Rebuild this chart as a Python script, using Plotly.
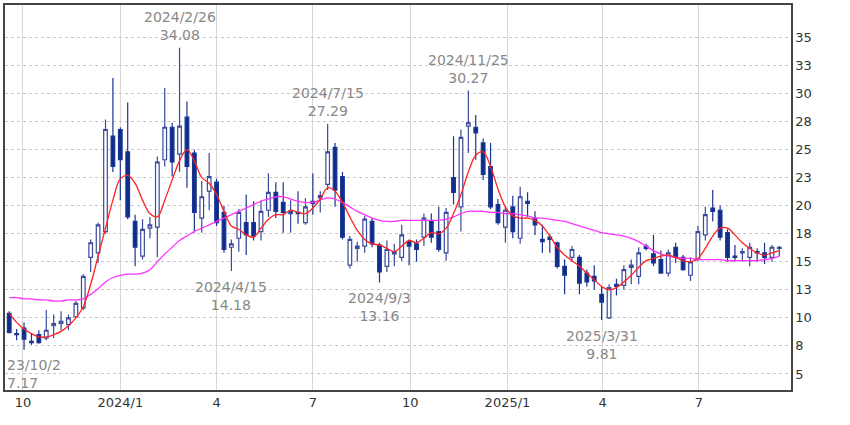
import pandas as pd
import plotly.graph_objects as go

# weekly candles
weeks = pd.date_range("2023-09-18", periods=105, freq="7D")

opens = [10.4, 8.6, 9.1, 7.9, 8.5, 8.2, 9.3, 9.5, 9.4, 10.1, 10.9, 15.4, 15.8, 17.7, 26.2, 26.8, 24.8, 18.6,
         15.5, 18.0, 18.1, 24.1, 27.0, 24.6, 27.9, 24.7, 18.9, 21.3, 22.1, 19.4, 16.3, 17.1, 18.5, 18.5, 17.7,
         19.6, 21.2, 20.3, 19.3, 19.4, 18.5, 20.4, 20.7, 21.9, 25.2, 22.6, 14.7, 16.2, 16.4, 18.6, 16.5, 14.6,
         15.7, 15.4, 16.8, 16.6, 17.2, 18.6, 17.7, 15.8, 22.5, 19.9, 27.1, 27.0, 25.6, 23.5, 20.1, 18.1, 19.9,
         17.1, 20.4, 18.9, 17.0, 17.2, 16.7, 14.6, 15.4, 15.4, 14.0, 13.7, 12.1, 10.0, 13.0, 12.9, 14.5, 13.7,
         16.4, 15.7, 15.2, 14.0, 16.3, 15.4, 13.8, 15.2, 17.4, 19.8, 19.6, 17.6, 15.5, 15.8, 15.4, 15.9, 15.8,
         15.4, 16.2]
highs = [10.6, 9.0, 9.6, 8.6, 8.9, 10.7, 10.3, 10.6, 10.3, 11.5, 13.9, 17.0, 18.5, 27.7, 31.4, 27.0, 29.2, 19.2,
         18.8, 19.0, 24.4, 30.5, 27.4, 34.08, 29.3, 25.0, 22.2, 24.7, 22.4, 20.0, 17.0, 19.7, 21.0, 20.4, 20.5,
         22.9, 22.1, 22.1, 20.5, 21.3, 20.7, 22.9, 21.3, 27.29, 25.6, 23.0, 17.3, 16.8, 19.1, 18.9, 16.7, 16.9,
         16.6, 18.3, 17.0, 17.0, 19.3, 19.3, 19.9, 19.8, 26.2, 26.8, 30.27, 28.1, 26.0, 25.6, 20.6, 19.9, 20.9,
         21.7, 21.2, 19.5, 18.3, 17.5, 16.8, 15.2, 16.4, 15.6, 14.3, 14.7, 12.8, 13.0, 13.5, 14.7, 15.2, 16.3,
         16.6, 17.4, 16.0, 16.1, 16.7, 15.6, 15.4, 18.2, 19.9, 21.4, 20.0, 17.9, 16.5, 16.2, 16.7, 16.2, 16.7,
         16.5, 16.4]
lows = [8.6, 8.0, 7.17, 7.6, 7.7, 8.0, 8.2, 8.9, 8.9, 10.0, 10.7, 14.1, 14.9, 17.5, 23.0, 20.5, 18.8, 14.6,
        15.2, 17.1, 15.4, 23.5, 22.6, 23.0, 21.6, 17.6, 17.6, 19.6, 18.2, 15.8, 14.18, 15.9, 15.6, 16.9, 16.9,
        19.0, 18.9, 17.6, 17.6, 18.4, 18.3, 19.2, 19.4, 21.4, 19.9, 17.0, 14.4, 15.0, 15.8, 16.3, 13.16, 14.1,
        14.6, 15.1, 14.7, 15.0, 16.4, 16.7, 15.9, 15.1, 20.1, 17.7, 24.7, 24.1, 22.3, 19.7, 18.3, 16.7, 17.1,
        16.6, 19.0, 17.4, 15.8, 15.8, 14.4, 12.1, 15.0, 12.1, 12.8, 12.5, 9.81, 9.9, 12.0, 12.5, 13.0, 13.0,
        16.0, 14.6, 14.0, 13.7, 14.9, 14.2, 13.3, 15.1, 16.9, 18.6, 16.9, 15.0, 15.0, 15.0, 14.6, 15.0, 14.8,
        15.0, 15.5]
closes = [8.7, 8.5, 8.1, 7.8, 7.8, 8.9, 9.5, 9.7, 10.0, 11.3, 13.7, 16.7, 18.3, 26.8, 23.5, 24.1, 19.0, 16.3,
          17.9, 18.3, 23.9, 27.0, 23.9, 27.1, 23.5, 19.4, 20.8, 22.6, 18.5, 16.1, 16.6, 19.4, 17.4, 17.3, 19.5,
          21.2, 19.5, 19.4, 19.5, 19.3, 19.9, 20.2, 20.9, 24.8, 21.4, 17.2, 17.0, 16.4, 18.8, 16.6, 14.1, 16.1,
          15.9, 17.4, 16.4, 16.1, 18.9, 17.2, 16.1, 19.4, 21.2, 26.1, 27.4, 26.5, 22.8, 19.9, 18.5, 19.6, 17.7,
          20.8, 20.2, 18.3, 16.8, 17.0, 14.6, 13.8, 16.1, 13.1, 13.2, 13.3, 11.4, 12.7, 12.8, 14.3, 14.7, 15.8,
          16.2, 14.9, 14.0, 15.8, 15.4, 14.3, 15.0, 17.7, 19.2, 19.5, 17.2, 15.4, 15.4, 15.9, 16.3, 15.8, 15.4,
          16.3, 16.3]

# moving averages as drawn (13 and 26 weeks)
ma13 = [10.4, 9.6, 9.0, 8.6, 8.3, 8.3, 8.5, 8.8, 9.3, 10.0, 11.0, 13.0, 15.5, 18.0, 20.5, 22.4, 22.7, 22.0,
        20.5, 19.3, 19.0, 20.5, 22.3, 24.0, 25.0, 24.0, 22.5, 22.0, 21.0, 19.5, 18.2, 17.9, 17.4, 17.2, 18.0,
        18.8, 19.2, 19.2, 19.6, 19.4, 19.3, 19.8, 20.6, 21.6, 21.3, 20.3, 19.0, 17.8, 17.0, 16.6, 16.5, 16.2,
        15.9, 16.4, 16.9, 16.7, 17.1, 17.6, 17.5, 18.0, 19.3, 21.0, 23.0, 24.5, 24.8, 23.5, 21.5, 19.9, 19.1,
        18.9, 18.9, 18.7, 18.2, 17.3, 16.3, 15.6, 15.1, 14.6, 14.0, 13.4, 12.8, 12.5, 12.7, 13.2, 13.8, 14.5,
        15.1, 15.3, 15.5, 15.6, 15.4, 15.1, 15.0, 15.3, 16.2, 17.3, 18.0, 18.0, 17.4, 16.7, 16.2, 15.8, 15.6,
        15.8, 16.0]
ma26 = [11.8, 11.8, 11.7, 11.7, 11.6, 11.6, 11.5, 11.5, 11.6, 11.6, 11.7, 12.1, 12.6, 13.2, 13.6, 13.8, 13.9,
        13.9, 14.0, 14.3, 15.0, 15.7, 16.3, 16.9, 17.3, 17.7, 18.0, 18.3, 18.6, 18.9, 19.2, 19.5, 19.8, 20.1,
        20.4, 20.6, 20.8, 20.8, 20.6, 20.4, 20.3, 20.3, 20.5, 20.7, 20.6, 20.3, 19.9, 19.5, 19.2, 18.9, 18.7,
        18.6, 18.6, 18.7, 18.7, 18.7, 18.7, 18.7, 18.7, 18.8, 19.0, 19.3, 19.5, 19.5, 19.5, 19.4, 19.4, 19.3,
        19.3, 19.2, 19.1, 18.9, 18.9, 18.8, 18.7, 18.6, 18.4, 18.2, 18.0, 17.8, 17.6, 17.5, 17.4, 17.3, 17.1,
        16.8, 16.4, 16.0, 15.7, 15.5, 15.4, 15.3, 15.3, 15.2, 15.2, 15.2, 15.2, 15.1, 15.1, 15.1, 15.1, 15.1,
        15.2, 15.3, 15.5]

y_ticks = [5, 7.5, 10, 12.5, 15, 17.5, 20, 22.5, 25, 27.5, 30, 32.5, 35]
y_tick_text = ["5", "8", "10", "13", "15", "18", "20", "23", "25", "28", "30", "33", "35"]
x_ticks = ["2023-10-01", "2024-01-01", "2024-04-01", "2024-07-01", "2024-10-01",
           "2025-01-01", "2025-04-01", "2025-07-01"]
x_tick_text = ["10", "2024/1", "4", "7", "10", "2025/1", "4", "7"]

# (week index, label, above?)
marks = [(23, "2024/2/26", True), (43, "2024/7/15", True), (62, "2024/11/25", True),
         (30, "2024/4/15", False), (50, "2024/9/3", False), (80, "2025/3/31", False)]

fig = go.Figure()
fig.add_trace(go.Candlestick(
    x=weeks, open=opens, high=highs, low=lows, close=closes,
    increasing=dict(fillcolor="white", line=dict(color="#3a4a9c", width=1.2)),
    decreasing=dict(fillcolor="#0d2d8c", line=dict(color="#1a3590", width=1.2)),
    whiskerwidth=0, showlegend=False, hoverinfo="skip"))
fig.add_trace(go.Scatter(x=weeks, y=ma26, mode="lines", line=dict(color="#ff33ff", width=1.3),
                         line_shape="spline", showlegend=False))
fig.add_trace(go.Scatter(x=weeks, y=ma13, mode="lines", line=dict(color="#ff2222", width=1.3),
                         line_shape="spline", showlegend=False))

for i, label, above in marks:
    val = highs[i] if above else lows[i]
    fig.add_annotation(x=weeks[i], y=val, text=f"{label}<br>{val:.2f}", showarrow=False,
                       yanchor="bottom" if above else "top", yshift=3 if above else -6,
                       font=dict(size=14, color="#888888"))
# first low, clipped at the left edge
fig.add_annotation(xref="paper", x=0, y=lows[2], text="23/10/2<br>7.17", showarrow=False,
                   xanchor="left", yanchor="top", yshift=-5, align="left",
                   font=dict(size=14, color="#888888"))

fig.update_layout(
    width=850, height=425, margin=dict(l=5, r=59, t=5, b=35),
    paper_bgcolor="white", plot_bgcolor="white",
    font=dict(family="DejaVu Sans", size=12, color="#333333"))
fig.update_xaxes(type="date", range=["2023-09-14", "2025-09-26"], rangeslider_visible=False,
                 tickvals=x_ticks, ticktext=x_tick_text, showgrid=True, gridcolor="#d8d8d8",
                 showline=True, linecolor="#444444", linewidth=1.5, mirror=True, ticks="",
                 tickfont=dict(size=13), automargin=False)
fig.update_yaxes(range=[3.57, 37.9], side="right", tickvals=y_ticks, ticktext=y_tick_text,
                 showgrid=True, gridcolor="#c8c8c8", griddash="dot", zeroline=False,
                 showline=True, linecolor="#444444", linewidth=1.5, mirror=True, ticks="",
                 tickfont=dict(size=13), automargin=False)

fig.write_html("out.html", config={"displayModeBar": False},
               post_script="document.body.style.margin='0';")
